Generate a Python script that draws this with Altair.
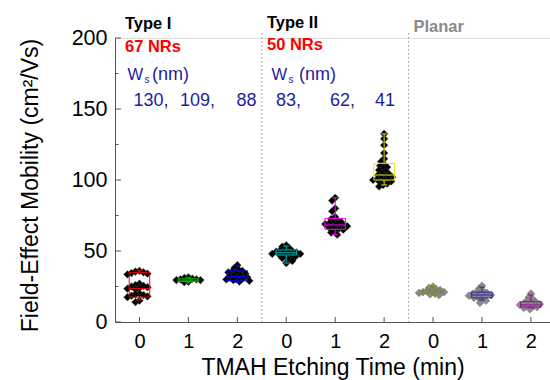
import altair as alt
import pandas as pd
import numpy as np

# ---------------- data ----------------
positions = [0, 1, 2, 3, 4, 5, 6, 7, 8]
box_colors = ["#ff0000", "#00b400", "#0000ff", "#00b4b4", "#ff00ff",
              "#e6e600", "#8c8c00", "#2828a0", "#a000a0"]
point_colors = ["#000000"] * 6 + ["#8a8a8a"] * 3

q1 = [17.5, 28.5, 29.0, 47.2, 65.3, 100.0, 20.3, 17.0, 10.5]
med = [23.5, 29.5, 32.0, 48.8, 68.3, 103.5, 21.5, 19.0, 12.0]
q3 = [34.7, 30.5, 36.0, 50.7, 73.0, 111.7, 23.0, 21.0, 14.3]
lo = [15.5, 27.5, 28.0, 41.5, 61.5, 96.5, 19.5, 15.5, 10.0]
hi = [36.0, 31.5, 40.0, 53.5, 87.5, 132.5, 25.0, 24.5, 19.0]

pts0 = [36, 35.5, 35, 34.5, 34, 33.5, 27, 26, 25.5, 25, 24.5, 24, 23.5, 23,
        20, 19.5, 19, 18.5, 18, 17.5, 15, 14]
pts1 = [31.5, 31, 30.5, 30, 30, 29.5, 29.5, 29, 29, 28.5, 28, 28.5, 30, 29, 30.5, 31]
pts2 = [40, 38, 37, 36, 35.5, 35, 34.5, 34, 33, 32.5, 32, 31.5, 31, 30.5, 30,
        29.5, 29, 28.5]
pts3 = [54, 53, 52, 51, 50.5, 50, 49.5, 49, 49, 48.5, 48, 48, 47.5, 47, 46.5,
        46, 45, 44, 43, 41.5]
pts4 = [87.5, 85.5, 80, 78, 74, 72.5, 71.5, 70.5, 70, 69.5, 69, 68.5, 68, 67.5,
        67, 66.5, 66, 65, 64, 63, 61.5]
pts5 = [132.5, 129, 124.5, 119, 115, 113, 111, 110, 109, 108, 107, 106, 105,
        104, 103.5, 103, 102, 101.5, 101, 100.5, 100, 99.5, 99, 98.5, 97.5,
        96.5, 95.5]
pts6 = [25, 24, 23, 22.5, 22, 21.5, 21, 21, 20.5, 20, 19.5, 19]
pts7 = [25.5, 23.5, 22, 21, 20.5, 20, 19.5, 19, 18.5, 18, 17.5, 17, 16, 15, 13.5]
pts8 = [20, 17.5, 16, 15, 14, 13.5, 13, 12.5, 12, 11.5, 11, 10.5, 10, 9]
all_pts = [pts0, pts1, pts2, pts3, pts4, pts5, pts6, pts7, pts8]

tick_values = [0, 1, 2, 3, 4, 5, 6, 7, 8]
y_major = [0, 50, 100, 150, 200]
y_minor = [25, 75, 125, 175]
separators = [2.5, 5.5]

# ---------------- layout helpers ----------------
PX_X = 435 / 8.89   # pixels per category unit
PX_Y = 284 / 200.0  # pixels per mobility unit
D = 4.0             # minimum spacing between marker centres in px


def swarm(vals):
    placed = []
    out = []
    cands = sorted(range(-14, 15), key=lambda c: (abs(c), c))
    for v in vals:
        yp = v * PX_Y
        chosen = 0
        for c in cands:
            if all((c - px) ** 2 + (yp - py) ** 2 >= D * D for px, py in placed):
                chosen = c
                break
        placed.append((chosen, yp))
        out.append(chosen / PX_X)
    return out


rows = []
for g, vals in zip(positions, all_pts):
    offs = swarm(vals)
    for v, o in zip(vals, offs):
        rows.append({"x": g + o, "v": v, "c": point_colors[g]})
pdf = pd.DataFrame(rows)

W = 0.21
C = 0.06
bdf = pd.DataFrame({
    "x": positions, "xl": [p - W for p in positions], "xr": [p + W for p in positions],
    "cl": [p - C for p in positions], "cr": [p + C for p in positions],
    "q1": q1, "med": med, "q3": q3, "lo": lo, "hi": hi, "c": box_colors,
})

xscale = alt.Scale(domain=[-0.5, 8.39], nice=False, zero=False)
yscale = alt.Scale(domain=[0, 200], nice=False, zero=False)

FONT = "Liberation Sans"
xaxis = alt.Axis(values=tick_values, labelExpr="datum.value % 3", ticks=False,
                 grid=False, domainColor="#555555", labelFontSize=20,
                 labelPadding=9, labelColor="#000000", labelFont=FONT,
                 title="TMAH Etching Time (min)", titleFontSize=23,
                 titleFontWeight="normal", titleFont=FONT, titlePadding=5,
                 titleColor="#000000")
yaxis = alt.Axis(values=y_major, ticks=False, grid=False, domainColor="#555555",
                 labelFontSize=21.5, labelPadding=8, labelColor="#000000",
                 labelFont=FONT, title="Field-Effect Mobility (cm²/Vs)",
                 titleFontSize=23, titleFontWeight="normal", titleFont=FONT,
                 titleColor="#000000", titleX=-85, titleY=147,
                 titleAngle=270, titleBaseline="middle", titleAlign="center")


def X(f):
    return alt.X(f, type="quantitative", scale=xscale, axis=xaxis)


def Y(f):
    return alt.Y(f, type="quantitative", scale=yscale, axis=yaxis)


sep = alt.Chart(pd.DataFrame({"x": separators})).mark_rule(
    color="#9a9a9a", strokeDash=[1.5, 2.5], strokeWidth=1).encode(
    x=X("x"), y=alt.value(-5), y2=alt.value(284))

points = alt.Chart(pdf).mark_point(shape="diamond", filled=True, size=60,
                                    opacity=1, stroke="#555555", strokeWidth=0.4).encode(
    x=X("x"), y=Y("v"), color=alt.Color("c:N", scale=None))

bbase = alt.Chart(bdf)
box = bbase.mark_rect(fillOpacity=0, strokeWidth=1).encode(
    x=X("xl"), x2="xr", y=Y("q1"), y2="q3", stroke=alt.Color("c:N", scale=None))
wh_hi = bbase.mark_rule(strokeWidth=1).encode(
    x=X("x"), y=Y("q3"), y2="hi", color=alt.Color("c:N", scale=None))
wh_lo = bbase.mark_rule(strokeWidth=1).encode(
    x=X("x"), y=Y("lo"), y2="q1", color=alt.Color("c:N", scale=None))
cap_hi = bbase.mark_rule(strokeWidth=1).encode(
    x=X("cl"), x2="cr", y=Y("hi"), color=alt.Color("c:N", scale=None))
cap_lo = bbase.mark_rule(strokeWidth=1).encode(
    x=X("cl"), x2="cr", y=Y("lo"), color=alt.Color("c:N", scale=None))
median = bbase.mark_rule(strokeWidth=1).encode(
    x=X("xl"), x2="xr", y=Y("med"), color=alt.Color("c:N", scale=None))

xt = alt.Chart(pd.DataFrame({"x": tick_values})).mark_rule(
    color="#555555", strokeWidth=1).encode(x=X("x"), y=alt.value(279), y2=alt.value(284))
yt_major = alt.Chart(pd.DataFrame({"y": y_major})).mark_rule(
    color="#555555", strokeWidth=1).encode(y=Y("y"), x=alt.value(0), x2=alt.value(6))
yt_minor = alt.Chart(pd.DataFrame({"y": y_minor})).mark_rule(
    color="#555555", strokeWidth=1).encode(y=Y("y"), x=alt.value(0), x2=alt.value(3.5))

# annotation texts (plot-relative pixel positions, baseline anchored)
ann = [
    # text, x, y, size, weight, color
    ("Type I", 10, -9, 16.5, "bold", "#000000"),
    ("67 NRs", 10, 13.5, 16.5, "bold", "#ff0000"),
    ("W", 12.5, 42, 16.5, "normal", "#1e1ea0"),
    ("s", 29.5, 45, 10, "normal", "#1e1ea0"),
    ("(nm)", 37, 42, 18, "normal", "#1e1ea0"),
    ("130,", 18.5, 68, 18, "normal", "#1e1ea0"),
    ("109,", 65, 68, 18, "normal", "#1e1ea0"),
    ("88", 121.5, 68, 18, "normal", "#1e1ea0"),
    ("Type II", 152, -10.5, 16.5, "bold", "#000000"),
    ("50 NRs", 152, 11.5, 16.5, "bold", "#ff0000"),
    ("W", 156.5, 41.5, 16.5, "normal", "#1e1ea0"),
    ("s", 173.5, 44.5, 10, "normal", "#1e1ea0"),
    ("(nm)", 184, 41.5, 18, "normal", "#1e1ea0"),
    ("83,", 161, 68, 18, "normal", "#1e1ea0"),
    ("62,", 215, 68, 18, "normal", "#1e1ea0"),
    ("41", 260, 68, 18, "normal", "#1e1ea0"),
    ("Planar", 298.5, -6.5, 16.5, "bold", "#8a8a8a"),
]
texts = []
for t, x, y, s, w, c in ann:
    texts.append(alt.Chart(pd.DataFrame({"t": [t]})).mark_text(
        align="left", baseline="alphabetic", fontSize=s, fontWeight=w,
        color=c, font=FONT).encode(text="t:N", x=alt.value(x), y=alt.value(y)))

chart = alt.layer(sep, points, box, wh_hi, wh_lo, cap_hi, cap_lo, median,
                  xt, yt_major, yt_minor, *texts).properties(
    width=435, height=284,
    autosize=alt.AutoSizeParams(type="none"),
    padding={"left": 115, "top": 38, "right": 0, "bottom": 58},
).configure_view(stroke=None).configure(font=FONT, background="white")

chart.save("out.html", embed_options={"renderer": "svg", "actions": False})
